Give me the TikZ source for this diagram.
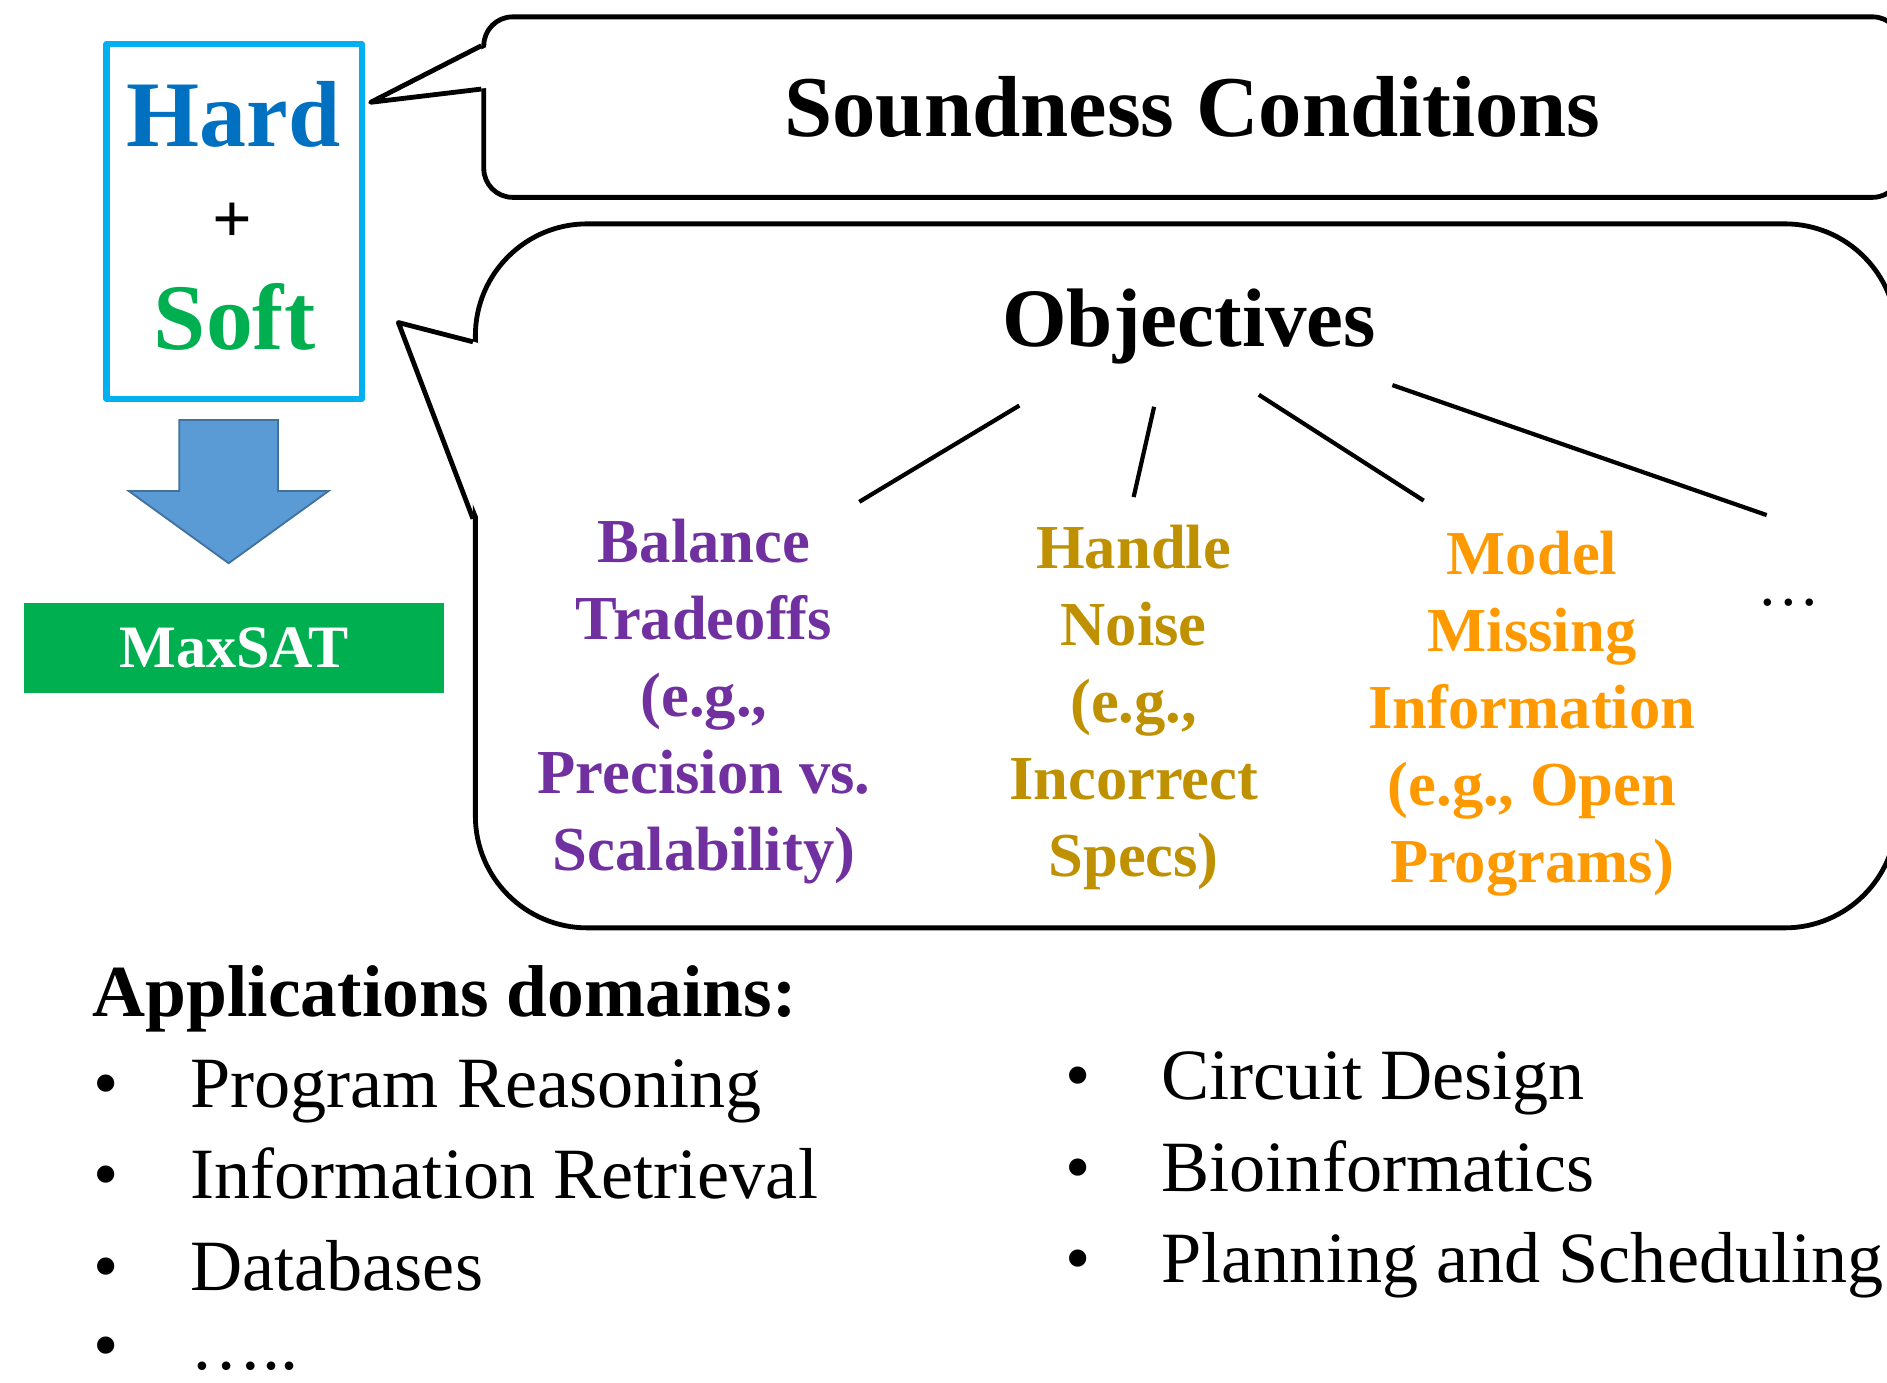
\documentclass[tikz,border=0pt]{standalone}
\usepackage{fontspec}
\setmainfont{Liberation Serif}
\usepackage{xcolor}
\usetikzlibrary{positioning}

\definecolor{hardblue}{HTML}{0070C0}
\definecolor{softgreen}{HTML}{00B050}
\definecolor{boxcyan}{HTML}{00B0F0}
\definecolor{arrowfill}{HTML}{5B9BD5}
\definecolor{arrowline}{HTML}{41719C}
\definecolor{tradepurple}{HTML}{7030A0}
\definecolor{noisegold}{HTML}{BF9000}
\definecolor{missorange}{HTML}{FF9900}

\begin{document}
\begin{tikzpicture}[x=1pt, y=-1pt, line join=round,
    every node/.style={inner sep=0pt},
    callbox/.style={draw, line width=4pt, rounded corners=#1},
    callline/.style={line width=4pt},
    branch/.style={line width=3.5pt},
    objitem/.style={text=#1, font=\bfseries\fontsize{52}{64}\selectfont, align=center, anchor=north},
    listitem/.style={font=\fontsize{60}{72}\selectfont, anchor=base west},
    bulletmark/.style={font=\fontsize{60}{72}\selectfont, anchor=base}]

    \useasboundingbox (0,0) rectangle (1568,1149);
    \clip (0,0) rectangle (1568,1149);

    % hard + soft
    \node[draw=boxcyan, line width=5pt, minimum width=212pt, minimum height=295pt] (hsbox) at (194.5,184) {};
    \node[anchor=base, text=hardblue, font=\bfseries\fontsize{78}{90}\selectfont] (hard) at (194,122) {Hard};
    \node[font=\bfseries\fontsize{58}{66}\selectfont] (plus) at (193,185) {+};
    \node[anchor=base, text=softgreen, font=\bfseries\fontsize{78}{90}\selectfont] (soft) at (195,290) {Soft};

    \draw[fill=arrowfill, draw=arrowline, line width=1.5pt, line join=miter]
        (149,349) -- (231,349) -- (231,408) -- (273,408) -- (190,468) -- (107,408) -- (149,408) -- cycle;

    \node[fill=softgreen, minimum width=349pt, minimum height=75pt, text=white,
          font=\bfseries\fontsize{50}{60}\selectfont] (maxsat) at (194.5,538.5) {MaxSAT};

    % callouts
    \node[callbox=24pt, minimum width=1178pt, minimum height=150pt,
          font=\bfseries\fontsize{72}{86}\selectfont] (sound) at (991,89) {Soundness Conditions};
    \coordinate (tip1) at (308,85);
    \fill[white] (404.5,39) -- (tip1) -- (404.5,73) -- cycle;
    \draw[callline] ([yshift=51pt]sound.west) -- (tip1) -- ([yshift=15pt]sound.west);

    \node[callbox=93pt, minimum width=1181pt, minimum height=585pt] (objbox) at (985.5,478.5) {};
    \coordinate (tip2) at (331,268);
    \fill[white] (397.5,285) -- (tip2) -- (397.5,430) -- cycle;
    \draw[callline] ([yshift=194.5pt]objbox.west) -- (tip2) -- ([yshift=47.5pt]objbox.west);

    % objectives
    \node[anchor=base, font=\bfseries\fontsize{69}{80}\selectfont] (obj) at (988,288) {Objectives};

    \node[objitem=tradepurple] (trade) at (585,431) {Balance\\Tradeoffs\\(e.g.,\\Precision vs.\\Scalability)};
    \node[objitem=noisegold]   (noise) at (942,436) {Handle\\Noise\\(e.g.,\\Incorrect\\Specs)};
    \node[objitem=missorange]  (miss)  at (1273,441) {Model\\Missing\\Information\\(e.g., Open\\Programs)};
    \node[anchor=base, font=\fontsize{52}{60}\selectfont] (more) at (1486,503) {…};

    \draw[branch] ([xshift=-141pt, yshift=-49pt]obj.base) -- ([xshift=129pt, yshift=14pt]trade.north);
    \draw[branch] ([xshift=-29pt, yshift=-50pt]obj.base) -- ([yshift=23pt]noise.north);
    \draw[branch] ([xshift=58pt, yshift=-40pt]obj.base) -- ([xshift=-90pt, yshift=25pt]miss.north);
    \draw[branch] ([xshift=169pt, yshift=-32pt]obj.base) -- ([xshift=-18pt, yshift=75pt]more.base);

    % application domains
    \node[anchor=base west, font=\bfseries\fontsize{61}{72}\selectfont] (apps) at (77,845) {Applications domains:};

    \node[bulletmark] (b1) at (88,920)  {\textbullet};
    \node[bulletmark] (b2) at (88,996)  {\textbullet};
    \node[bulletmark] (b3) at (88,1072) {\textbullet};
    \node[bulletmark] (b4) at (88,1138) {\textbullet};
    \node[listitem] (prog)  at (158,920)  {Program Reasoning};
    \node[listitem] (info)  at (158,996)  {Information Retrieval};
    \node[listitem] (db)    at (158,1072) {Databases};
    \node[listitem] (etc)   at (158,1138) {…..};

    \node[bulletmark] (b5) at (896,914)  {\textbullet};
    \node[bulletmark] (b6) at (896,990)  {\textbullet};
    \node[bulletmark] (b7) at (896,1066) {\textbullet};
    \node[listitem] (circ)  at (965,914)  {Circuit Design};
    \node[listitem] (bio)   at (965,990)  {Bioinformatics};
    \node[listitem] (plan)  at (965,1066) {Planning and Scheduling};

\end{tikzpicture}
\end{document}
